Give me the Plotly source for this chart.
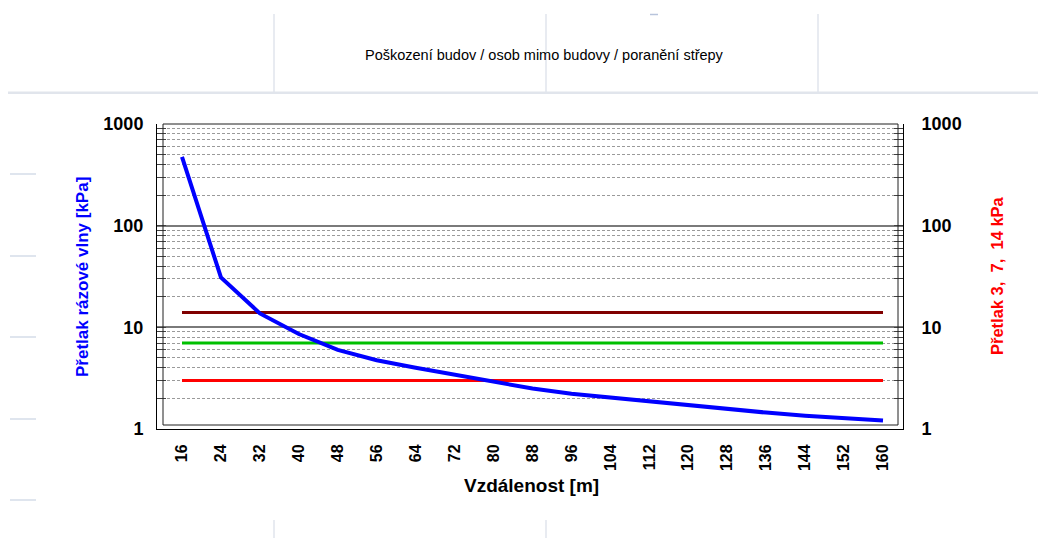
import plotly.graph_objects as go

# ---- data ----
distance_m = [16, 24, 32, 40, 48, 56, 64, 72, 80, 88, 96, 104, 112, 120, 128, 136, 144, 152, 160]
overpressure_kpa = [475, 31, 13.7, 8.6, 6.0, 4.75, 4.0, 3.42, 2.88, 2.5, 2.22, 2.03, 1.86, 1.70, 1.56, 1.45, 1.35, 1.27, 1.21]
threshold_values = [14, 7, 3]
threshold_colors = ["#800000", "#00C000", "#FF0000"]
y_tick_vals = [1, 10, 100, 1000]
y_tick_text = ["1", "10", "100", "1000"]
y_minor_vals = [m * d for d in (1, 10, 100) for m in range(2, 10)]

title_text = "Poškození budov / osob mimo budovy / poranění střepy"
x_title = "Vzdálenost [m]"
y_title = "Přetlak rázové vlny [kPa]"
y2_title = "Přetlak 3,\u00a0\u00a07,\u00a0\u00a014 kPa"

W, H = 1046, 538
OFF = 8  # page body margin
L, R, T, B = 157, 903, 124, 429   # plot area in reference pixels
FONT = "Liberation Sans, Arial, sans-serif"


def px(x):
    return (x - L) / (R - L)


def py(y):
    return (B - y) / (B - T)


# x range so that 16 -> 182 px and 160 -> 883 px
upp = (distance_m[-1] - distance_m[0]) / (883 - 182)
x_range = [distance_m[0] - (182 - L) * upp, distance_m[-1] + (R - 883) * upp]

fig = go.Figure()

for v, c in zip(threshold_values, threshold_colors):
    fig.add_trace(go.Scatter(x=[distance_m[0], distance_m[-1]], y=[v, v], mode="lines",
                             line=dict(color=c, width=3), showlegend=False, hoverinfo="skip"))

fig.add_trace(go.Scatter(x=distance_m, y=overpressure_kpa, mode="lines",
                         line=dict(color="#0000FF", width=4), showlegend=False))

# invisible trace on the secondary axis
fig.add_trace(go.Scatter(x=[distance_m[0]], y=[1], yaxis="y2", mode="markers",
                         marker=dict(opacity=0), showlegend=False, hoverinfo="skip"))

tickfont = dict(family=FONT, size=18, color="black", weight="bold")

fig.update_layout(
    width=W, height=H,
    margin=dict(l=L - OFF, r=W - R + OFF, t=T - OFF, b=H - B + OFF, pad=0),
    paper_bgcolor="white", plot_bgcolor="white",
    showlegend=False,
    xaxis=dict(
        range=x_range, tickmode="array", tickvals=distance_m,
        ticktext=[str(d) for d in distance_m], tickangle=-90,
        tickfont=dict(family=FONT, size=16, color="black", weight="bold"),
        showgrid=False, zeroline=False, showline=True, linecolor="black", linewidth=1,
        ticks="", ticklabelstandoff=8,
    ),
    yaxis=dict(
        type="log", range=[0, 3], tickmode="array", tickvals=y_tick_vals, ticktext=y_tick_text,
        tickfont=tickfont, showline=True, linecolor="black", linewidth=1,
        ticks="inside", ticklen=9, tickcolor="#404040", tickwidth=1,
        showgrid=True, gridcolor="#7a7a7a", gridwidth=1.5, zeroline=False,
        ticklabelstandoff=9,
        minor=dict(tickmode="array", tickvals=y_minor_vals, ticks="inside", ticklen=9,
                   tickcolor="#404040", showgrid=True, gridcolor="#9a9a9a",
                   griddash="3px,2px", gridwidth=1),
    ),
    yaxis2=dict(
        type="log", range=[0, 3], overlaying="y", side="right",
        tickmode="array", tickvals=y_tick_vals, ticktext=y_tick_text,
        tickfont=tickfont, showline=True, linecolor="black", linewidth=1,
        ticks="inside", ticklen=9, tickcolor="#404040", showgrid=False, zeroline=False,
        ticklabelstandoff=14,
        minor=dict(tickmode="array", tickvals=y_minor_vals, ticks="inside", ticklen=9,
                   tickcolor="#404040", showgrid=False),
    ),
)

shapes = []
# inner plot border
shapes.append(dict(type="rect", xref="paper", yref="paper", x0=px(163), x1=px(898), y0=py(425), y1=py(124),
                   line=dict(color="#202020", width=1), layer="above"))
# page decorations
deco = "#E1E5EC"
shapes.append(dict(type="rect", xref="paper", yref="paper", x0=px(8), x1=px(1046), y0=py(94), y1=py(91.5),
                   fillcolor=deco, line=dict(width=0)))
for xv in (274, 546, 818):
    shapes.append(dict(type="line", xref="paper", yref="paper", x0=px(xv), x1=px(xv), y0=py(14), y1=py(92),
                       line=dict(color=deco, width=1.5)))
for xv in (274, 546):
    shapes.append(dict(type="line", xref="paper", yref="paper", x0=px(xv), x1=px(xv), y0=py(520), y1=py(538),
                       line=dict(color=deco, width=1.5)))
for yv in (174, 256, 337, 419, 500):
    shapes.append(dict(type="line", xref="paper", yref="paper", x0=px(10), x1=px(36), y0=py(yv), y1=py(yv),
                       line=dict(color="#D5DCE8", width=1.5)))
shapes.append(dict(type="line", xref="paper", yref="paper", x0=px(650), x1=px(658), y0=py(14.5), y1=py(14.5),
                   line=dict(color="#B8C4DC", width=1.5)))
fig.update_layout(shapes=shapes)

annotations = [
    dict(text=title_text, x=px(544), y=py(55), xref="paper", yref="paper", showarrow=False,
         font=dict(family=FONT, size=14.5, color="black"), xanchor="center", yanchor="middle"),
    dict(text=x_title, x=px(531), y=py(485), xref="paper", yref="paper", showarrow=False,
         font=dict(family=FONT, size=19, color="black", weight="bold"), xanchor="center", yanchor="middle"),
    dict(text=y_title, x=px(82), y=py(277), xref="paper", yref="paper", showarrow=False, textangle=-90,
         font=dict(family=FONT, size=17, color="#0000FF", weight="bold"), xanchor="center", yanchor="middle"),
    dict(text=y2_title, x=px(997), y=py(276), xref="paper", yref="paper", showarrow=False, textangle=-90,
         font=dict(family=FONT, size=16.5, color="#FF0000", weight="bold"), xanchor="center", yanchor="middle"),
]
fig.update_layout(annotations=annotations)

fig.write_html("out.html")
